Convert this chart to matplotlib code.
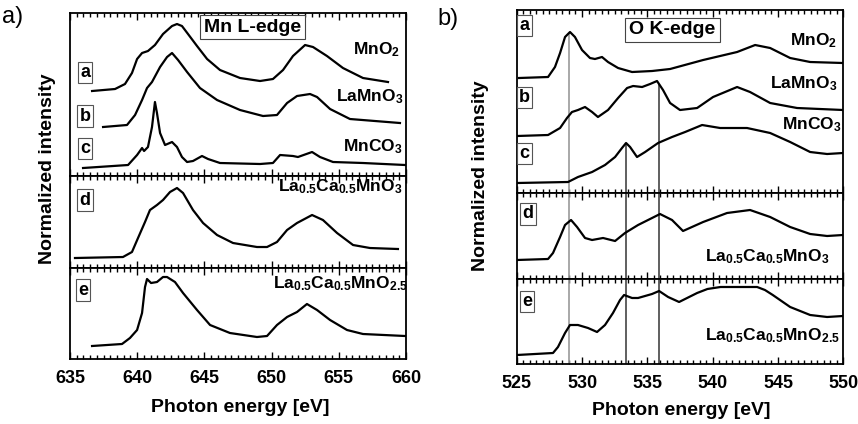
import numpy as np
import matplotlib
matplotlib.use("Agg")
import matplotlib.pyplot as plt
from matplotlib.ticker import MultipleLocator

plt.rcParams.update({
    "font.family": ["Liberation Sans", "DejaVu Sans"],
    "font.weight": "bold",
    "mathtext.fontset": "custom",
    "mathtext.rm": "Liberation Sans:bold",
    "mathtext.bf": "Liberation Sans:bold",
    "mathtext.it": "Liberation Sans:bold",
})

# ---------------- Mn L-edge spectra (photon energy in eV, intensity in a.u.) ----------------
mn_a_E = [636.64, 638.35, 639.09, 639.61, 639.99, 640.36, 640.80, 641.32, 641.92, 642.59, 642.96,
          643.33, 643.78, 644.45, 645.20, 646.16, 647.65, 649.14, 650.10, 650.85, 651.59, 652.49,
          653.08, 654.12, 655.31, 656.80, 658.66]
mn_a_I = [0.00, 0.02, 0.07, 0.18, 0.32, 0.38, 0.40, 0.46, 0.57, 0.65, 0.67,
          0.65, 0.57, 0.45, 0.32, 0.21, 0.13, 0.10, 0.12, 0.21, 0.35, 0.46,
          0.44, 0.35, 0.23, 0.13, 0.09]

mn_b_E = [637.46, 639.24, 639.84, 640.36, 640.73, 641.10, 641.70, 642.22, 642.59, 643.04, 643.71,
          644.67, 645.94, 647.65, 649.36, 650.40, 651.15, 651.89, 652.86, 653.38, 654.35, 655.83,
          659.55]
mn_b_I = [0.00, 0.02, 0.12, 0.27, 0.39, 0.45, 0.60, 0.70, 0.74, 0.67, 0.55,
          0.39, 0.27, 0.17, 0.11, 0.12, 0.24, 0.31, 0.33, 0.30, 0.18, 0.08,
          0.04]

mn_c_E = [635.97, 639.32, 639.99, 640.36, 640.51, 640.80, 641.10, 641.32, 641.47, 641.70, 642.07,
          642.59, 642.96, 643.33, 643.71, 644.15, 644.82, 645.27, 646.16, 649.14, 650.10, 650.63,
          651.59, 651.96, 653.01, 653.60, 654.57, 656.80, 659.93]
mn_c_I = [0.00, 0.03, 0.13, 0.20, 0.17, 0.21, 0.41, 0.66, 0.55, 0.35, 0.23,
          0.26, 0.21, 0.11, 0.06, 0.07, 0.12, 0.09, 0.05, 0.04, 0.05, 0.13,
          0.12, 0.11, 0.16, 0.11, 0.06, 0.05, 0.03]

mn_d_E = [635.37, 638.94, 639.61, 640.06, 640.58, 640.95, 641.47, 641.92, 642.44, 642.96, 643.41,
          644.15, 644.90, 645.94, 647.13, 648.91, 649.66, 650.40, 651.15, 651.89, 653.01, 653.82,
          654.87, 656.06, 657.32, 659.40]
mn_d_I = [0.00, 0.01, 0.06, 0.20, 0.36, 0.48, 0.53, 0.58, 0.66, 0.70, 0.65,
          0.48, 0.35, 0.23, 0.15, 0.11, 0.11, 0.16, 0.28, 0.35, 0.43, 0.38,
          0.25, 0.13, 0.10, 0.09]

mn_e_E = [636.64, 638.87, 639.46, 639.99, 640.36, 640.58, 640.73, 641.03, 641.47, 641.92, 642.22,
          642.81, 643.41, 644.45, 645.42, 646.90, 648.91, 649.66, 650.40, 651.15, 651.89, 652.63,
          653.38, 654.35, 655.61, 656.80, 659.93]
mn_e_I = [0.00, 0.02, 0.08, 0.16, 0.33, 0.59, 0.67, 0.63, 0.64, 0.69, 0.69,
          0.64, 0.53, 0.36, 0.21, 0.13, 0.09, 0.10, 0.21, 0.29, 0.34, 0.42,
          0.36, 0.26, 0.16, 0.12, 0.10]

# ---------------- O K-edge spectra ----------------
o_a_E = [525.18, 527.40, 527.93, 528.32, 528.70, 529.08, 529.46, 530.00, 530.61, 530.99, 531.53,
         531.99, 532.76, 533.83, 535.36, 536.74, 539.27, 541.87, 543.25, 544.40, 545.93, 547.46,
         549.98]
o_a_I = [0.00, 0.01, 0.11, 0.25, 0.41, 0.46, 0.41, 0.28, 0.20, 0.19, 0.21,
         0.16, 0.10, 0.06, 0.07, 0.09, 0.18, 0.26, 0.33, 0.30, 0.20, 0.16,
         0.15]

o_b_E = [525.02, 527.40, 528.32, 528.85, 529.23, 529.69, 530.23, 530.77, 531.22, 531.99, 532.76,
         533.45, 533.91, 534.60, 535.21, 535.74, 536.20, 536.74, 537.50, 538.81, 540.03, 541.87,
         542.86, 544.40, 546.46, 549.98]
o_b_I = [0.00, 0.01, 0.08, 0.18, 0.24, 0.26, 0.29, 0.24, 0.19, 0.26, 0.38,
         0.48, 0.50, 0.49, 0.52, 0.55, 0.46, 0.33, 0.26, 0.28, 0.39, 0.49,
         0.44, 0.33, 0.28, 0.26]

o_c_E = [525.02, 528.93, 529.69, 530.77, 531.76, 532.53, 533.06, 533.37, 533.68, 534.21, 534.83,
         535.82, 536.89, 537.89, 539.19, 540.57, 542.63, 544.40, 545.93, 547.46, 548.76, 549.98]
o_c_I = [0.00, 0.01, 0.06, 0.11, 0.18, 0.26, 0.35, 0.40, 0.36, 0.26, 0.31,
         0.40, 0.46, 0.51, 0.58, 0.55, 0.55, 0.50, 0.41, 0.31, 0.29, 0.30]

o_d_E = [525.02, 527.40, 527.78, 528.32, 528.70, 529.16, 529.62, 530.23, 530.77, 531.61, 532.53,
         533.29, 534.29, 535.36, 535.97, 536.89, 537.73, 539.27, 541.10, 542.86, 544.40, 545.93,
         547.46, 548.76, 549.98]
o_d_I = [0.00, 0.01, 0.07, 0.23, 0.35, 0.40, 0.33, 0.22, 0.20, 0.22, 0.19,
         0.27, 0.35, 0.42, 0.46, 0.40, 0.29, 0.38, 0.47, 0.50, 0.43, 0.33,
         0.26, 0.24, 0.25]

o_e_E = [525.02, 527.78, 528.16, 528.70, 529.08, 529.69, 530.46, 531.15, 531.76, 532.37, 532.91,
         533.22, 533.83, 534.29, 535.36, 535.90, 536.59, 537.43, 538.81, 539.60, 540.60, 541.87,
         543.40, 544.00, 544.60, 545.93, 547.46, 548.76, 549.98]
o_e_I = [0.00, 0.02, 0.08, 0.22, 0.30, 0.30, 0.27, 0.23, 0.30, 0.42, 0.55,
         0.60, 0.57, 0.57, 0.61, 0.64, 0.58, 0.53, 0.62, 0.66, 0.68, 0.68,
         0.68, 0.65, 0.60, 0.48, 0.40, 0.38, 0.39]

# vertical offsets used to stack the spectra inside each panel
mn_offsets = {"a": 0.85, "b": 0.49, "c": 0.08, "d": 0.10, "e": 0.13}
o_offsets = {"a": 1.15, "b": 0.57, "c": 0.10, "d": 0.19, "e": 0.09}

# reference energies marked in the O K-edge panel
o_marker_E = [529.0, 533.35, 535.9]

compound_names = [r"$\mathbf{MnO_2}$", r"$\mathbf{LaMnO_3}$", r"$\mathbf{MnCO_3}$",
                  r"$\mathbf{La_{0.5}Ca_{0.5}MnO_3}$", r"$\mathbf{La_{0.5}Ca_{0.5}MnO_{2.5}}$"]

LW = 1.6


def style(ax, xlim, ylim, labels):
    ax.set_xlim(*xlim)
    ax.set_ylim(*ylim)
    ax.set_yticks([])
    ax.xaxis.set_major_locator(MultipleLocator(5))
    ax.xaxis.set_minor_locator(MultipleLocator(0.5))
    ax.tick_params(axis="x", which="both", direction="in", top=True, bottom=True,
                   width=1.0, labelsize=13, pad=8)
    ax.tick_params(axis="x", which="major", length=5)
    ax.tick_params(axis="x", which="minor", length=3)
    if not labels:
        ax.tick_params(axis="x", labelbottom=False)
    for s in ax.spines.values():
        s.set_linewidth(1.3)


def tag(ax, x, y, s):
    ax.text(x, y, s, transform=ax.transAxes, ha="center", va="center", fontsize=13,
            fontweight="bold",
            bbox=dict(boxstyle="square,pad=0.12", fc="white", ec="#555555", lw=0.8))


def name(ax, x, y, s, size=12.5):
    ax.text(x, y, s, transform=ax.transAxes, ha="right", va="baseline", fontsize=size)


fig = plt.figure(figsize=(8.58, 4.24), dpi=100)

# ---------------- left: Mn L-edge ----------------
L0, LW_AX = 0.0816, 0.3916
axL1 = fig.add_axes([L0, 0.5849, LW_AX, 0.3844])
axL2 = fig.add_axes([L0, 0.3679, LW_AX, 0.2170])
axL3 = fig.add_axes([L0, 0.1533, LW_AX, 0.2146])

for E, I, k in [(mn_a_E, mn_a_I, "a"), (mn_b_E, mn_b_I, "b"), (mn_c_E, mn_c_I, "c")]:
    axL1.plot(E, np.array(I) + mn_offsets[k], color="black", lw=LW)
axL2.plot(mn_d_E, np.array(mn_d_I) + mn_offsets["d"], color="black", lw=LW)
axL3.plot(mn_e_E, np.array(mn_e_I) + mn_offsets["e"], color="black", lw=LW)

style(axL1, (635, 660), (0, 1.63), False)
style(axL2, (635, 660), (0, 0.92), False)
style(axL3, (635, 660), (0, 0.91), True)

axL1.text(0.543, 0.914, "Mn L-edge", transform=axL1.transAxes, ha="center", va="center",
          fontsize=14, bbox=dict(boxstyle="square,pad=0.2", fc="white", ec="#444444", lw=0.8))
tag(axL1, 0.045, 0.635, "a")
tag(axL1, 0.045, 0.368, "b")
tag(axL1, 0.045, 0.169, "c")
tag(axL2, 0.045, 0.739, "d")
tag(axL3, 0.039, 0.758, "e")
name(axL1, 0.982, 0.748, compound_names[0])
name(axL1, 0.991, 0.456, compound_names[1])
name(axL1, 0.991, 0.149, compound_names[2])
name(axL2, 0.991, 0.829, compound_names[3])
name(axL3, 1.004, 0.780, compound_names[4])

# ---------------- right: O K-edge ----------------
R0, RW_AX = 0.6022, 0.3807
axR1 = fig.add_axes([R0, 0.5448, RW_AX, 0.4316])
axR2 = fig.add_axes([R0, 0.3420, RW_AX, 0.2028])
axR3 = fig.add_axes([R0, 0.1415, RW_AX, 0.2005])

top_curves = {"a": (o_a_E, o_a_I), "b": (o_b_E, o_b_I), "c": (o_c_E, o_c_I)}
for k, (E, I) in top_curves.items():
    axR1.plot(E, np.array(I) + o_offsets[k], color="black", lw=LW, zorder=3)
axR2.plot(o_d_E, np.array(o_d_I) + o_offsets["d"], color="black", lw=LW, zorder=3)
axR3.plot(o_e_E, np.array(o_e_I) + o_offsets["e"], color="black", lw=LW, zorder=3)

# marker lines: each starts at the peak of the spectrum it refers to
line_src = ["a", "c", "b"]
line_col = ["#9a9a9a", "#444444", "#444444"]
for Em, src, col in zip(o_marker_E, line_src, line_col):
    E, I = top_curves[src]
    y_top = np.interp(Em, E, I) + o_offsets[src]
    axR1.vlines(Em, 0, y_top, color=col, lw=1.2, zorder=2)
    axR2.axvline(Em, color=col, lw=1.2, zorder=2)
    axR3.axvline(Em, color=col, lw=1.2, zorder=2)

style(axR1, (525, 550), (0, 1.83), False)
style(axR2, (525, 550), (0, 0.86), False)
style(axR3, (525, 550), (0, 0.85), True)

axR1.text(0.477, 0.891, "O K-edge", transform=axR1.transAxes, ha="center", va="center",
          fontsize=14, bbox=dict(boxstyle="square,pad=0.2", fc="white", ec="#444444", lw=0.8))
tag(axR1, 0.024, 0.915, "a")
tag(axR1, 0.024, 0.522, "b")
tag(axR1, 0.024, 0.216, "c")
tag(axR2, 0.035, 0.756, "d")
tag(axR3, 0.031, 0.735, "e")
name(axR1, 0.981, 0.809, compound_names[0])
name(axR1, 0.981, 0.572, compound_names[1])
name(axR1, 0.996, 0.348, compound_names[2])
name(axR2, 0.959, 0.201, compound_names[3])
name(axR3, 0.990, 0.282, compound_names[4])

# ---------------- shared labels ----------------
fig.text(0.0548, 0.601, "Normalized intensity", rotation=90, ha="center", va="center", fontsize=14)
fig.text(0.5606, 0.585, "Normalized intensity", rotation=90, ha="center", va="center", fontsize=14)
fig.text(0.280, 0.038, "Photon energy [eV]", ha="center", va="center", fontsize=14)
fig.text(0.794, 0.031, "Photon energy [eV]", ha="center", va="center", fontsize=14)
fig.text(0.002, 0.985, "a)", ha="left", va="top", fontsize=17, fontweight="normal")
fig.text(0.510, 0.980, "b)", ha="left", va="top", fontsize=17, fontweight="normal")

fig.savefig("out.png", dpi=100)
